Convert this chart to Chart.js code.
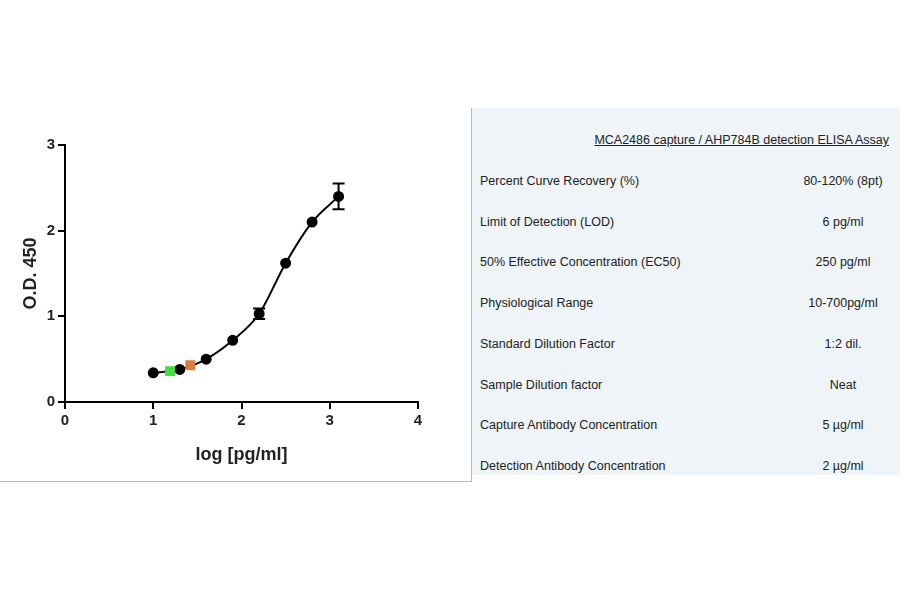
<!DOCTYPE html>
<html><head><meta charset="utf-8">
<script src="https://cdn.jsdelivr.net/npm/chart.js@4"></script>
<style>
body{margin:0;width:900px;height:594px;background:#fff;position:relative;overflow:hidden;font-family:"Liberation Sans",Arial,sans-serif}
#wrap{position:absolute;left:0;top:120px;width:470px;height:360px}
#hline{position:absolute;left:0;top:481px;width:472px;height:1px;background:#bbb}
#vline{position:absolute;left:471px;top:108px;width:1px;height:374px;background:#bbb}
#panel{position:absolute;left:472px;top:108px;width:428px;height:367px;background:#eef4f8;font-size:12.5px;color:#222}
.row{position:absolute;left:8px;width:410px}
.row .v{position:absolute;left:290px;width:146px;text-align:center;top:0}
#ttl{position:absolute;right:11px;top:25px;text-decoration:underline;font-size:12.5px}
</style></head><body>
<div id="wrap"><canvas id="c"></canvas></div>
<div id="hline"></div><div id="vline"></div>
<div id="panel"><div id="ttl">MCA2486 capture / AHP784B detection ELISA Assay</div></div>
<script>
const logConc=[1,1.3,1.6,1.9,2.2,2.5,2.8,3.1];
const odMean=[0.34,0.38,0.5,0.72,1.03,1.62,2.1,2.4];
const odErr=[0.01,0.01,0.01,0.01,0.06,0.01,0.01,0.15];
const greenPt={x:1.19,y:0.36};
const orangePt={x:1.42,y:0.43};
const xTicks=[0,1,2,3,4];
const yTicks=[0,1,2,3];
const params=["Percent Curve Recovery (%)","Limit of Detection (LOD)","50% Effective Concentration (EC50)","Physiological Range","Standard Dilution Factor","Sample Dilution factor","Capture Antibody Concentration","Detection Antibody Concentration"];
const values=["80-120% (8pt)","6 pg/ml","250 pg/ml","10-700pg/ml","1:2 dil.","Neat","5 µg/ml","2 µg/ml"];

const panel=document.getElementById('panel');
params.forEach((p,i)=>{const d=document.createElement('div');d.className='row';d.style.top=(66+i*40.7)+'px';d.innerHTML=p+'<span class="v">'+values[i]+'</span>';panel.appendChild(d);});

const errPlugin={id:'err',afterDatasetsDraw(ch){const c=ch.ctx,xs=ch.scales.x,ys=ch.scales.y;c.save();c.strokeStyle='#000';c.lineWidth=2;
logConc.forEach((x,i)=>{if(odErr[i]<0.03)return;const px=xs.getPixelForValue(x),t=ys.getPixelForValue(odMean[i]+odErr[i]),b=ys.getPixelForValue(odMean[i]-odErr[i]);
c.beginPath();c.moveTo(px,t);c.lineTo(px,b);c.moveTo(px-6,t);c.lineTo(px+6,t);c.moveTo(px-6,b);c.lineTo(px+6,b);c.stroke();});c.restore();}};
const font={family:'"Liberation Sans",Arial',size:15,weight:'bold'};
new Chart(document.getElementById('c'),{
 data:{datasets:[
  {type:'scatter',data:[greenPt],pointStyle:'rect',pointRadius:7,backgroundColor:'#44dd44',borderWidth:0,order:0},
  {type:'scatter',data:[orangePt],pointStyle:'rect',pointRadius:7,backgroundColor:'#e07a40',borderWidth:0,order:0},
  {type:'line',data:logConc.map((x,i)=>({x,y:odMean[i]})),borderColor:'#000',borderWidth:2,tension:0.4,cubicInterpolationMode:'monotone',pointRadius:4.5,pointBackgroundColor:'#000',pointBorderColor:'#000',order:1}
 ]},
 plugins:[errPlugin],
 options:{responsive:true,maintainAspectRatio:false,animation:false,
  layout:{padding:{top:25,right:52,left:16,bottom:14}},
  plugins:{legend:{display:false},tooltip:{enabled:false}},
  scales:{
   x:{type:'linear',min:0,max:4,afterBuildTicks:a=>{a.ticks=xTicks.map(v=>({value:v}))},
    border:{color:'#000',width:2},grid:{drawOnChartArea:false,color:'#000',lineWidth:2,tickLength:7},
    ticks:{color:'#222',font},title:{display:true,text:'log [pg/ml]',color:'#222',padding:{top:2,bottom:0},font:{family:'"Liberation Sans",Arial',size:18,weight:'bold'}},
    afterFit:s=>{s.height=64}},
   y:{min:0,max:3,afterBuildTicks:a=>{a.ticks=yTicks.map(v=>({value:v}))},
    border:{color:'#000',width:2},grid:{drawOnChartArea:false,color:'#000',lineWidth:2,tickLength:7},
    ticks:{color:'#222',font},title:{display:true,text:'O.D. 450',color:'#222',font:{family:'"Liberation Sans",Arial',size:18,weight:'bold'}},
    afterFit:s=>{s.width=49}}
  }}
});
</script></body></html>
